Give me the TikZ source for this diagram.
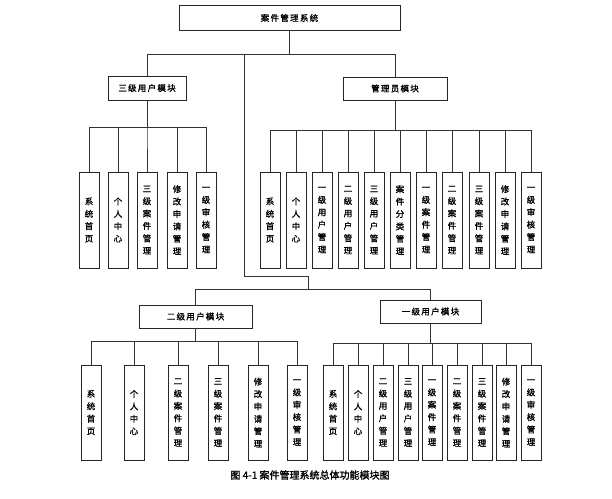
\documentclass[tikz,border=0pt]{standalone}
\usepackage{fontspec}
\newfontfamily\cjk[LetterSpace=15,FakeBold=1.2]{Noto Sans CJK SC}
\newfontfamily\cjkv[FakeBold=1.2]{Noto Sans CJK SC}
\newfontfamily\cjkc[FakeBold=1.6]{Noto Sans CJK SC}
\usetikzlibrary{shadows}
\tikzset{
  box/.style={draw=black!85, fill=white, line width=0.6pt, inner sep=0pt,
    drop shadow={shadow xshift=0.9pt, shadow yshift=-0.9pt, opacity=1, fill=black!55},
    font=\cjk\fontsize{8.5}{10}\selectfont},
  leaf/.style={box, minimum width=20pt, align=center,
    font=\cjkv\fontsize{8.5}{12.4}\selectfont},
  upleaf/.style={leaf, minimum height=96pt},
  lowleaf/.style={leaf, minimum height=95pt},
  conn/.style={draw=black!80, line width=0.6pt},
}
\begin{document}
\begin{tikzpicture}[x=1pt,y=-1pt]
\useasboundingbox (0,0) rectangle (612,498);
% level 0
\node[box, minimum width=221pt, minimum height=25pt] (T) at (289.5,18) {案件管理系统};
% level 1
\node[box, minimum width=78pt, minimum height=24pt] (A) at (147,88) {三级用户模块};
\node[box, minimum width=104pt, minimum height=23pt] (M) at (395,88.5) {管理员模块};
\node[box, minimum width=113pt, minimum height=23pt] (B) at (195.5,316.5) {二级用户模块};
\node[box, minimum width=101pt, minimum height=23pt] (C) at (430.5,311.5) {一级用户模块};
% A children
\node[upleaf] (a1) at (89,220) {系\\统\\首\\页};
\node[upleaf] (a2) at (118,220) {个\\人\\中\\心};
\node[upleaf] (a3) at (147,220) {三\\级\\案\\件\\管\\理};
\node[upleaf] (a4) at (177,220) {修\\改\\申\\请\\管\\理};
\node[upleaf] (a5) at (206,220) {一\\级\\审\\核\\管\\理};
% M children
\node[upleaf] (m1) at (270,220) {系\\统\\首\\页};
\node[upleaf] (m2) at (296,220) {个\\人\\中\\心};
\node[upleaf] (m3) at (322,220) {一\\级\\用\\户\\管\\理};
\node[upleaf] (m4) at (348,220) {二\\级\\用\\户\\管\\理};
\node[upleaf] (m5) at (374,220) {三\\级\\用\\户\\管\\理};
\node[upleaf] (m6) at (400,220) {案\\件\\分\\类\\管\\理};
\node[upleaf] (m7) at (426,220) {一\\级\\案\\件\\管\\理};
\node[upleaf] (m8) at (452,220) {二\\级\\案\\件\\管\\理};
\node[upleaf] (m9) at (479,220) {三\\级\\案\\件\\管\\理};
\node[upleaf] (m10) at (505,220) {修\\改\\申\\请\\管\\理};
\node[upleaf] (m11) at (531,220) {一\\级\\审\\核\\管\\理};
% B children
\node[lowleaf] (b1) at (91,412.5) {系\\统\\首\\页};
\node[lowleaf] (b2) at (134,412.5) {个\\人\\中\\心};
\node[lowleaf] (b3) at (178,412.5) {二\\级\\案\\件\\管\\理};
\node[lowleaf] (b4) at (218,412.5) {三\\级\\案\\件\\管\\理};
\node[lowleaf] (b5) at (258,412.5) {修\\改\\申\\请\\管\\理};
\node[lowleaf] (b6) at (297,412.5) {一\\级\\审\\核\\管\\理};
% C children
\node[lowleaf] (c1) at (333,412.5) {系\\统\\首\\页};
\node[lowleaf] (c2) at (358,412.5) {个\\人\\中\\心};
\node[lowleaf] (c3) at (383,412.5) {二\\级\\用\\户\\管\\理};
\node[lowleaf] (c4) at (408,412.5) {三\\级\\用\\户\\管\\理};
\node[lowleaf] (c5) at (432,412.5) {一\\级\\案\\件\\管\\理};
\node[lowleaf] (c6) at (457,412.5) {二\\级\\案\\件\\管\\理};
\node[lowleaf] (c7) at (482,412.5) {三\\级\\案\\件\\管\\理};
\node[lowleaf] (c8) at (506,412.5) {修\\改\\申\\请\\管\\理};
\node[lowleaf] (c9) at (531,412.5) {一\\级\\审\\核\\管\\理};
% caption
\node[font=\cjkc\fontsize{10}{12}\selectfont] (cap) at (310,475) {图 4-1 案件管理系统总体功能模块图};
% connectors
\coordinate (j1) at (244,54);
\coordinate (j2) at (308,289);
\draw[conn] (T.south) -- (T.south |- 0,54) -| (A.north);
\draw[conn] (T.south) -- (T.south |- 0,54) -| (M.north);
\draw[conn] (j1) -- (244,276) -| (j2);
\draw[conn] (j2) -| (B.north);
\draw[conn] (j2) -| (C.north);
\foreach \c in {a1,a2,a3,a4,a5} \draw[conn] (A.south) -- (A.south |- 0,127) -| (\c.north);
\foreach \c in {m1,m2,m3,m4,m5,m6,m7,m8,m9,m10,m11} \draw[conn] (M.south) -- (M.south |- 0,130) -| (\c.north);
\foreach \c in {b1,b2,b3,b4,b5,b6} \draw[conn] (B.south) -- (B.south |- 0,341) -| (\c.north);
\foreach \c in {c1,c2,c3,c4,c5,c6,c7,c8,c9} \draw[conn] (C.south) -- (C.south |- 0,343) -| (\c.north);
\end{tikzpicture}
\end{document}
